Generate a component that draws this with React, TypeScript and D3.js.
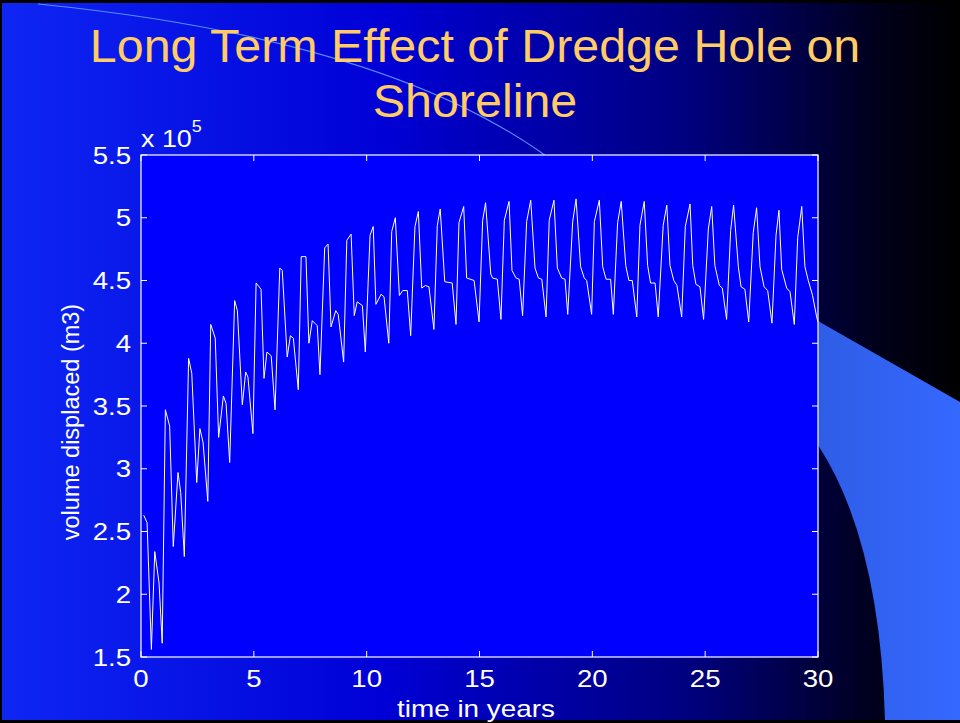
import * as d3 from "d3";

const W = 960;
const H = 723;
const MARGIN = { top: 155, right: 142, bottom: 66, left: 141 };

const TITLE_LINES = ["Long Term Effect of Dredge Hole on", "Shoreline"];
const X_LABEL = "time in years";
const Y_LABEL = "volume displaced (m3)";

const xTicks = [0, 5, 10, 15, 20, 25, 30];
const yTicks = [1.5, 2, 2.5, 3, 3.5, 4, 4.5, 5, 5.5];

// time (years) and displaced volume (x 10^5 m3)
const timeYears = [
  0.12, 0.27, 0.46, 0.61, 0.8, 0.94, 1.08, 1.27, 1.43, 1.64, 1.76, 1.92,
  2.11, 2.25, 2.47, 2.61, 2.75, 2.96, 3.09, 3.29, 3.44, 3.65, 3.77, 3.93,
  4.15, 4.27, 4.49, 4.64, 4.74, 4.96, 5.1, 5.32, 5.45, 5.58, 5.77, 5.94,
  6.15, 6.26, 6.48, 6.62, 6.75, 6.97, 7.1, 7.31, 7.44, 7.59, 7.81, 7.93,
  8.14, 8.29, 8.42, 8.63, 8.74, 8.98, 9.12, 9.31, 9.45, 9.58, 9.81, 9.94,
  10.15, 10.29, 10.41, 10.64, 10.77, 10.98, 11.11, 11.27, 11.45, 11.6, 11.8, 11.95,
  12.14, 12.29, 12.44, 12.6, 12.76, 12.98, 13.13, 13.26, 13.46, 13.79, 13.96,
  14.09, 14.3, 14.43, 14.76, 14.98, 15.14, 15.27, 15.5, 15.58, 15.79, 15.95,
  16.1, 16.31, 16.44, 16.62, 16.76, 16.91, 17.09, 17.27, 17.46, 17.61, 17.76, 17.95,
  18.09, 18.3, 18.45, 18.64, 18.79, 18.91, 19.13, 19.28, 19.48, 19.64, 19.75, 19.97,
  20.09, 20.31, 20.46, 20.61, 20.81, 20.93, 21.12, 21.28, 21.48, 21.62, 21.77, 21.97,
  22.11, 22.3, 22.45, 22.58, 22.78, 22.92, 23.14, 23.3, 23.44, 23.61, 23.75, 23.96,
  24.12, 24.33, 24.45, 24.59, 24.77, 24.93, 25.14, 25.29, 25.43, 25.63, 25.76, 25.95,
  26.13, 26.26, 26.47, 26.59, 26.76, 26.93, 27.13, 27.28, 27.43, 27.61, 27.77, 27.96,
  28.14, 28.27, 28.39, 28.61, 28.76, 28.95, 29.1, 29.28, 29.42, 29.57, 29.76, 29.94, 30,
];
const volumeE5 = [
  2.63, 2.57, 1.56, 2.34, 2.09, 1.61, 3.47, 3.34, 2.38, 2.97, 2.81, 2.3,
  3.88, 3.76, 2.89, 3.32, 3.21, 2.74, 4.15, 4.04, 3.25, 3.58, 3.52, 3.05,
  4.34, 4.26, 3.51, 3.77, 3.73, 3.28, 4.48, 4.43, 3.72, 3.93, 3.9, 3.47,
  4.6, 4.58, 3.89, 4.06, 4.04, 3.63, 4.69, 4.69, 4.0, 4.18, 4.14, 3.75,
  4.76, 4.79, 4.13, 4.26, 4.23, 3.85, 4.82, 4.87, 4.22, 4.33, 4.3, 3.93,
  4.86, 4.93, 4.31, 4.39, 4.37, 4.0, 4.89, 5.0, 4.38, 4.42, 4.42, 4.06,
  4.93, 5.05, 4.44, 4.46, 4.45, 4.11, 4.94, 5.07, 4.49, 4.48, 4.15,
  4.96, 5.09, 4.52, 4.5, 4.17, 4.98, 5.12, 4.55, 4.52, 4.51, 4.19,
  4.98, 5.13, 4.58, 4.52, 4.51, 4.22, 4.97, 5.14, 4.6, 4.52, 4.51, 4.21,
  4.98, 5.14, 4.6, 4.52, 4.51, 4.23, 4.97, 5.15, 4.61, 4.52, 4.5, 4.23,
  4.97, 5.14, 4.61, 4.51, 4.51, 4.23, 4.96, 5.13, 4.62, 4.5, 4.5, 4.21,
  4.94, 5.13, 4.62, 4.48, 4.48, 4.21, 4.94, 5.1, 4.62, 4.5, 4.46, 4.21,
  4.93, 5.11, 4.62, 4.47, 4.45, 4.19, 4.91, 5.09, 4.62, 4.46, 4.44, 4.19,
  4.9, 5.1, 4.61, 4.45, 4.43, 4.17, 4.88, 5.08, 4.61, 4.45, 4.42, 4.16,
  4.86, 5.06, 4.59, 4.44, 4.41, 4.15, 4.84, 5.09, 4.61, 4.5, 4.38, 4.21, 4.17,
];

const FONT = "'Liberation Sans', Arial, Helvetica, sans-serif";

// text slightly wider than the font draws it, as in the slide
const WideText = ({
  x,
  y,
  sx,
  size,
  anchor,
  fill = "#fff",
  children,
}: {
  x: number;
  y: number;
  sx: number;
  size: number;
  anchor: "start" | "middle" | "end";
  fill?: string;
  children: React.ReactNode;
}) => (
  <text
    transform={`translate(${x},${y}) scale(${sx},1)`}
    textAnchor={anchor}
    fill={fill}
    fontFamily={FONT}
    fontSize={size}
  >
    {children}
  </text>
);

export default function App() {
  const innerW = W - MARGIN.left - MARGIN.right;
  const innerH = H - MARGIN.top - MARGIN.bottom;

  const x = d3.scaleLinear().domain([0, 30]).range([MARGIN.left, MARGIN.left + innerW]);
  const y = d3.scaleLinear().domain([1.5, 5.5]).range([MARGIN.top + innerH, MARGIN.top]);

  const points: [number, number][] = timeYears.map((t, i) => [t, volumeE5[i]]);
  const linePath = d3
    .line<[number, number]>()
    .x((d) => x(d[0]))
    .y((d) => y(d[1]))(points);

  const x0 = MARGIN.left;
  const x1 = MARGIN.left + innerW;
  const y0 = MARGIN.top + innerH;
  const y1 = MARGIN.top;
  const tick = 6;

  return (
    <div style={{ position: "fixed", left: 0, top: 0, width: W, height: H }}>
      <svg width={W} height={H} style={{ display: "block" }}>
        <defs>
          <linearGradient id="bg" x1="0" y1="0" x2="1" y2="0">
            <stop offset="0" stopColor="#0e26f4" />
            <stop offset="0.4" stopColor="#0000d6" />
            <stop offset="0.72" stopColor="#00007e" />
            <stop offset="0.92" stopColor="#000018" />
            <stop offset="1" stopColor="#000000" />
          </linearGradient>
          <linearGradient id="shape" x1="0" y1="0" x2="1" y2="0">
            <stop offset="0" stopColor="#2f5de6" />
            <stop offset="1" stopColor="#3568ff" />
          </linearGradient>
        </defs>
        <rect x={0} y={0} width={W} height={H} fill="#000" />
        <rect x={2} y={3} width={W - 2} height={H - 6} fill="url(#bg)" />
        <path
          d={`M ${x1} 321 L ${W} 402 L ${W} ${H - 3} L 885 ${H - 3} Q 880 540 ${x1} 445 Z`}
          fill="url(#shape)"
        />
        <path d="M 38 4 Q 400 40 562 168" fill="none" stroke="#5a8cff" strokeWidth={1.2} />

        {TITLE_LINES.map((t, i) => (
          <WideText key={i} x={475} y={62 + i * 55} sx={1.03} size={47} anchor="middle" fill="#ffcc66">
            {t}
          </WideText>
        ))}

        <rect x={x0} y={y1} width={innerW} height={innerH} fill="#0000ff" />
        <path d={linePath ?? ""} fill="none" stroke="#fff" strokeWidth={1} strokeLinejoin="round" />
        <rect x={x0} y={y1} width={innerW} height={innerH} fill="none" stroke="#fff" strokeWidth={1.2} />

        {xTicks.map((t) => (
          <g key={"x" + t}>
            <line x1={x(t)} x2={x(t)} y1={y0} y2={y0 - tick} stroke="#fff" />
            <line x1={x(t)} x2={x(t)} y1={y1} y2={y1 + tick} stroke="#fff" />
            <WideText x={x(t)} y={y0 + 30} sx={1.15} size={24} anchor="middle">
              {t}
            </WideText>
          </g>
        ))}
        {yTicks.map((t) => (
          <g key={"y" + t}>
            <line x1={x0} x2={x0 + tick} y1={y(t)} y2={y(t)} stroke="#fff" />
            <line x1={x1} x2={x1 - tick} y1={y(t)} y2={y(t)} stroke="#fff" />
            <WideText x={x0 - 10} y={y(t) + 8.5} sx={1.15} size={24} anchor="end">
              {t}
            </WideText>
          </g>
        ))}

        <WideText x={x0} y={y1 - 8} sx={1.12} size={24} anchor="start">
          x 10
          <tspan dy={-15} fontSize={16}>
            5
          </tspan>
        </WideText>

        <WideText x={476} y={y0 + 60} sx={1.16} size={24} anchor="middle">
          {X_LABEL}
        </WideText>
        <text
          transform={`translate(79, 422) rotate(-90)`}
          textAnchor="middle"
          fill="#fff"
          fontFamily={FONT}
          fontSize={23.5}
        >
          {Y_LABEL}
        </text>
      </svg>
    </div>
  );
}
